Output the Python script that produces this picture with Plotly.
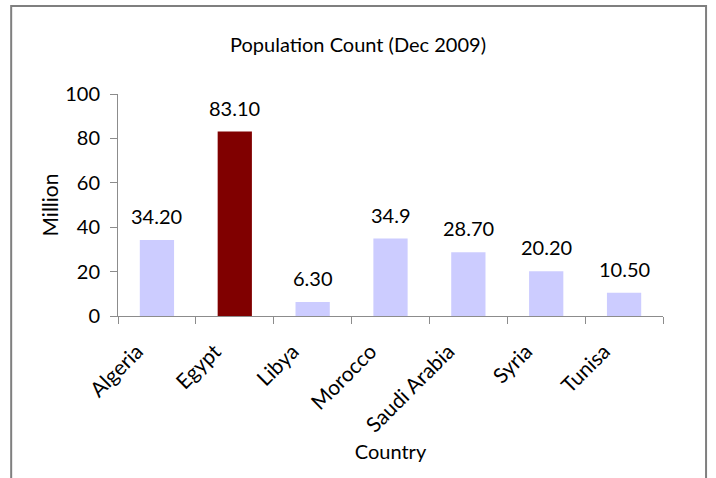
import plotly.graph_objects as go

countries = ["Algeria", "Egypt", "Libya", "Morocco", "Saudi Arabia", "Syria", "Tunisa"]
population = [34.2, 83.1, 6.3, 34.9, 28.7, 20.2, 10.5]
value_labels = ["34.20", "83.10", "6.30", "34.9", "28.70", "20.20", "10.50"]
bar_colors = ["#CCCCFF", "#800000", "#CCCCFF", "#CCCCFF", "#CCCCFF", "#CCCCFF", "#CCCCFF"]

font_family = "Lato, Open Sans, sans-serif"

fig = go.Figure()
fig.add_trace(
    go.Bar(
        x=countries,
        y=population,
        marker=dict(color=bar_colors, line=dict(width=0)),
        showlegend=False,
        hoverinfo="x+y",
    )
)

# value labels sit a little higher above the bars than plotly's own outside text
for c, v, lab in zip(countries, population, value_labels):
    fig.add_annotation(x=c, y=v, text=lab, showarrow=False, yanchor="bottom", yshift=10,
                       font=dict(size=20, color="black"))

fig.update_layout(
    width=716,
    height=478,
    margin=dict(l=118, r=53, t=94, b=162, autoexpand=False),
    paper_bgcolor="white",
    plot_bgcolor="white",
    font=dict(family=font_family, size=17, color="black"),
    bargap=0.56,
    title=dict(text="Population Count (Dec 2009)", x=0.5, xanchor="center", y=0.906, yanchor="middle",
               font=dict(size=20)),
    xaxis=dict(
        title=dict(text="Country", standoff=9, font=dict(size=20)),
        tickangle=-45,
        tickfont=dict(size=21),
        showline=True,
        linecolor="#8c8c8c",
        linewidth=1,
        ticks="outside",
        tickson="boundaries",
        ticklen=7,
        tickcolor="#8c8c8c",
        ticklabelstandoff=14,
        ticklabelshift=-20,
        showgrid=False,
        automargin=False,
    ),
    yaxis=dict(
        title=dict(text="Million", standoff=0, font=dict(size=21)),
        range=[0, 100],
        dtick=20,
        showline=True,
        linecolor="#8c8c8c",
        linewidth=1,
        ticks="outside",
        ticklen=7,
        tickcolor="#8c8c8c",
        ticklabelstandoff=6,
        showgrid=False,
        zeroline=False,
        tickfont=dict(size=20),
        automargin=False,
    ),
    shapes=[
        dict(type="rect", xref="paper", yref="paper",
             x0=-0.196, x1=1.079, y0=-0.8, y1=1.396,
             line=dict(color="#7f7f7f", width=2), fillcolor="rgba(0,0,0,0)", layer="below"),
    ],
)

fig.write_html("out.html", config={"displayModeBar": False},
               post_script="document.body.style.margin='0';")
